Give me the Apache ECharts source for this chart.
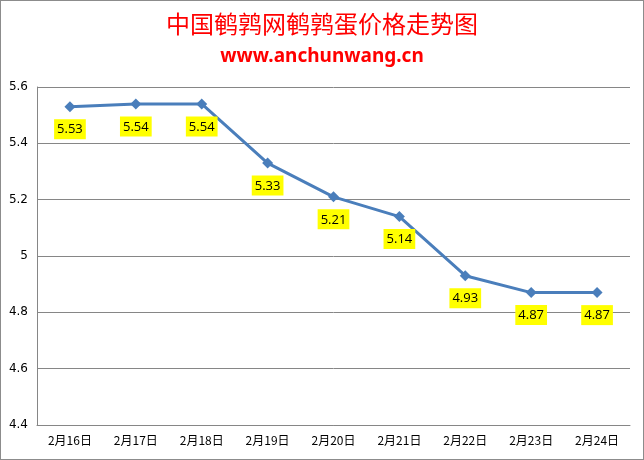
<!DOCTYPE html>
<html><head><meta charset="utf-8">
<script src="https://cdn.jsdelivr.net/npm/echarts@6/dist/echarts.min.js"></script>
<style>html,body{margin:0;padding:0;background:#fff}#c{width:642px;height:458px;border:1px solid #8c8c8c}</style>
</head><body><div id="c"></div>
<script>
const categories = ['2月16日','2月17日','2月18日','2月19日','2月20日','2月21日','2月22日','2月23日','2月24日'];
const prices = [5.53, 5.54, 5.54, 5.33, 5.21, 5.14, 4.93, 4.87, 4.87];
const titleText = '中国鹌鹑网鹌鹑蛋价格走势图';
const subText = 'www.anchunwang.cn';
const chart = echarts.init(document.getElementById('c'));
chart.setOption({
  animation: false,
  title: [{
    text: titleText, left: 'center', top: 6,
    textStyle: {color: '#ff0000', fontSize: 24, fontWeight: 'normal', fontFamily: 'Noto Sans CJK SC'}
  },{
    text: subText, left: 'center', top: 41,
    textStyle: {color: '#ff0000', fontSize: 19, fontWeight: 'bold', fontFamily: 'Noto Sans'}
  }],
  grid: {left: 36, right: 13, top: 86, bottom: 34},
  xAxis: {
    type: 'category', data: categories, boundaryGap: true,
    axisLine: {lineStyle: {color: '#868686'}},
    axisTick: {show: false},
    axisLabel: {color: '#000', fontSize: 12, margin: 9, fontFamily: 'Noto Sans CJK SC'}
  },
  yAxis: {
    type: 'value', min: 4.4, max: 5.6, interval: 0.2,
    axisLine: {show: true, lineStyle: {color: '#868686'}},
    axisTick: {show: false},
    splitLine: {lineStyle: {color: '#868686'}},
    axisLabel: {color: '#000', fontSize: 12, margin: 9, fontFamily: 'DejaVu Sans', formatter: v => String(+v.toFixed(1))}
  },
  series: [{
    type: 'line', data: prices,
    symbol: 'diamond', symbolSize: 11,
    lineStyle: {color: '#4a7ebb', width: 3},
    itemStyle: {color: '#4a7ebb'},
    label: {
      show: true, position: 'bottom', distance: 7,
      backgroundColor: '#ffff00', padding: [4, 3, 3, 3],
      color: '#000', fontSize: 13, fontFamily: 'Open Sans'
    }
  }]
});
</script></body></html>
